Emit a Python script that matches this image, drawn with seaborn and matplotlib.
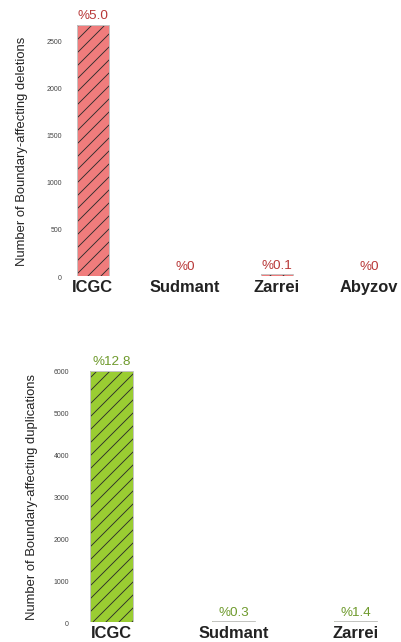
import matplotlib
matplotlib.use("Agg")
import matplotlib.pyplot as plt
from matplotlib.patches import Rectangle
import seaborn as sns

# ---- data ----
del_categories = ["ICGC", "Sudmant", "Zarrei", "Abyzov"]
del_values = [2660, 0, 20, 0]
del_labels = ["%5.0", "%0", "%0.1", "%0"]

dup_categories = ["ICGC", "Sudmant", "Zarrei"]
dup_values = [6000, 20, 30]
dup_labels = ["%12.8", "%0.3", "%1.4"]

del_yticks = [0, 500, 1000, 1500, 2000, 2500]
dup_yticks = [0, 1000, 2000, 3000, 4000, 5000, 6000]

sns.set_style("white")
plt.rcParams["font.family"] = ["Liberation Sans", "DejaVu Sans"]
plt.rcParams["hatch.linewidth"] = 0.8

DPI = 78
W, H = 401, 643
def pt(px):
    return px * 72.0 / DPI

fig = plt.figure(figsize=(W / DPI, H / DPI), dpi=DPI)

def px_axes(left, top, right, bottom):
    return fig.add_axes([left / W, 1 - bottom / H, (right - left) / W, (bottom - top) / H])

def draw(ax, cats, vals, labels, color, tcolor, yticks, ylabel, xlim, ylim, width, lab_x):
    sns.barplot(x=cats, y=vals, color=color, saturation=1, width=width,
                edgecolor="#2a2a2a", linewidth=0, ax=ax)
    for p in list(ax.patches):
        p.set_hatch("//")
        ax.add_patch(Rectangle(p.get_xy(), p.get_width(), p.get_height(),
                               fill=False, edgecolor="#c4c4c4", linewidth=0.9,
                               zorder=p.get_zorder() + 0.1))
    for i, (v, lab) in enumerate(zip(vals, labels)):
        ax.text(i, v + ylim[1] * 0.014, lab, ha="center", va="bottom",
                color=tcolor, fontsize=pt(13.5))
    ax.set_xlim(*xlim)
    ax.set_ylim(*ylim)
    ax.set_yticks(yticks)
    ax.set_yticklabels([str(t) for t in yticks], fontsize=pt(7), color="#444444")
    ax.tick_params(axis="y", length=0, pad=pt(6))
    ax.tick_params(axis="x", length=0, pad=pt(3))
    for lbl in ax.get_xticklabels():
        lbl.set_fontsize(pt(16.5))
        lbl.set_fontweight("bold")
        lbl.set_color("#222222")
    ax.set_ylabel(ylabel, fontsize=pt(13), color="#222222")
    ax.yaxis.set_label_coords(lab_x, 0.5)
    ax.set_xlabel("")
    for s in ax.spines.values():
        s.set_visible(False)
    ax.patch.set_alpha(0)

ax1 = px_axes(68, 26, 401, 277)
draw(ax1, del_categories, del_values, del_labels, "#F07C7C", "#B83838",
     del_yticks, "Number of Boundary-affecting deletions",
     (-0.27, 3.35), (0, 2660), 0.35, -0.12)

ax2 = px_axes(75, 371.7, 401, 623.3)
draw(ax2, dup_categories, dup_values, dup_labels, "#9ACD32", "#6E9A2C",
     dup_yticks, "Number of Boundary-affecting duplications",
     (-0.30, 2.37), (0, 6000), 0.35, -0.113)

fig.savefig("out.png", dpi=DPI)
